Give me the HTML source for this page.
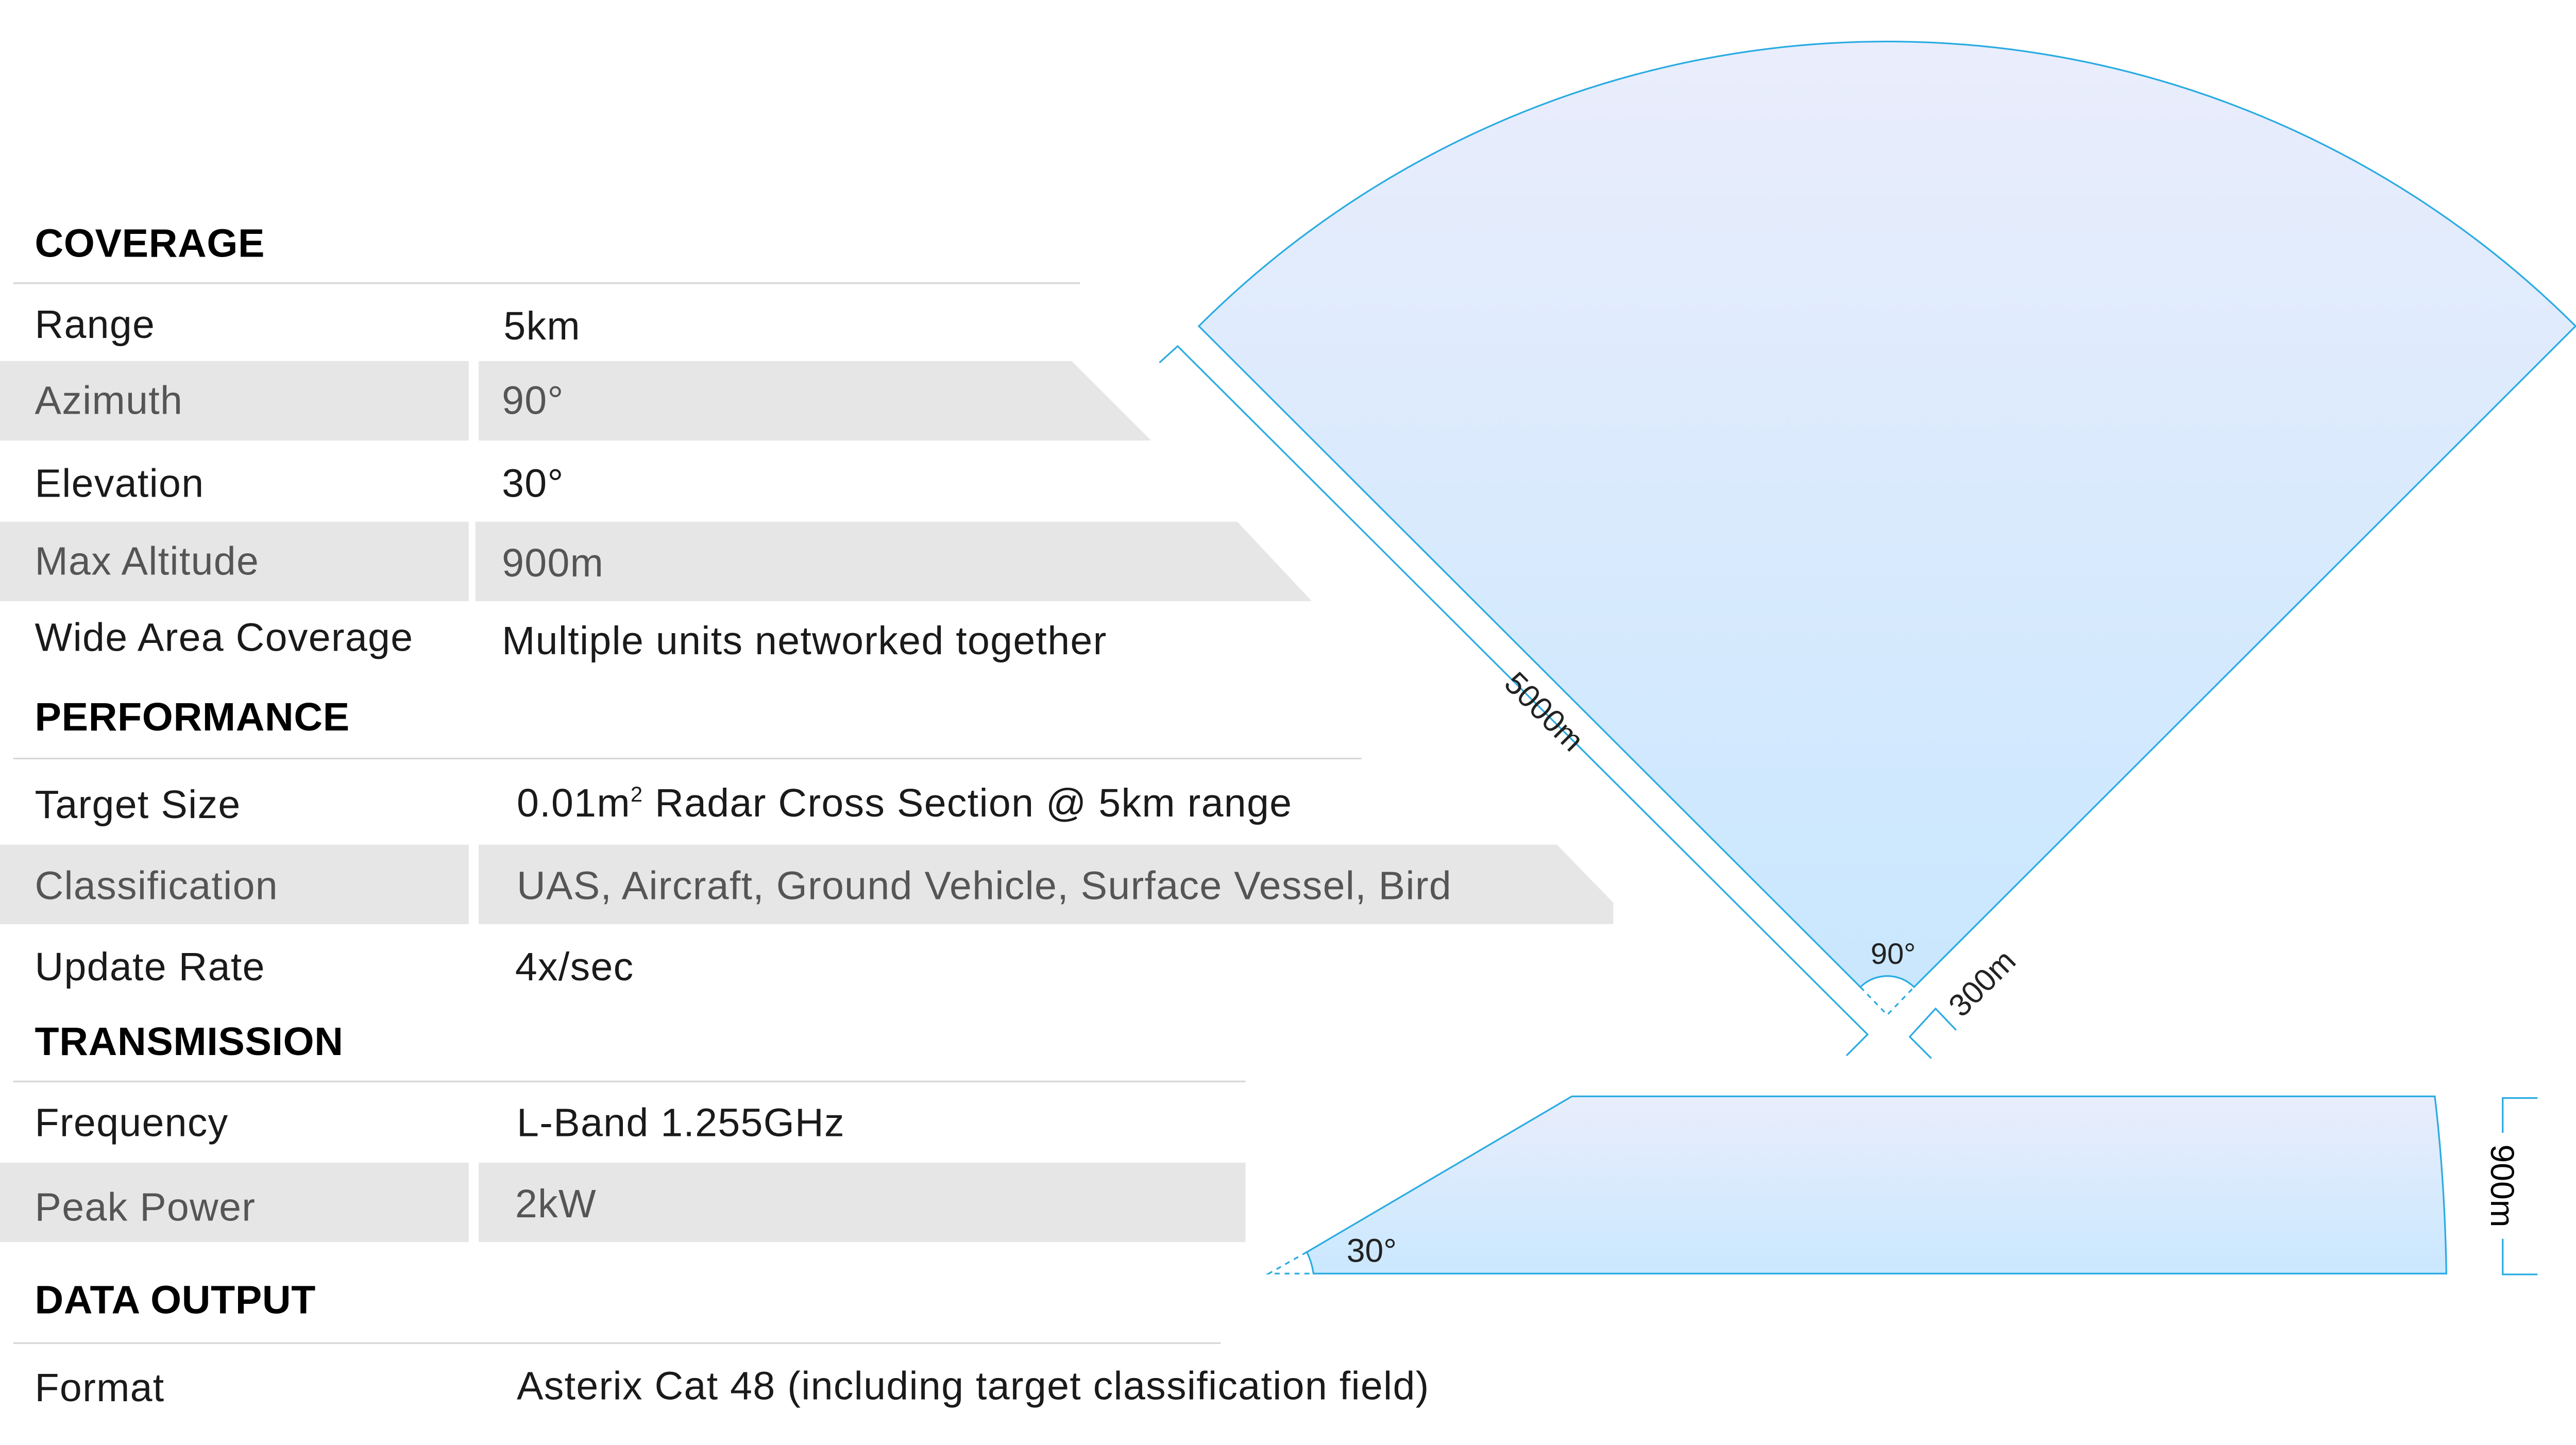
<!DOCTYPE html>
<html><head><meta charset="utf-8"><style>
html,body{margin:0;padding:0;background:#fff;}
svg{display:block;}
text{font-family:"Liberation Sans",sans-serif;}
</style></head><body>
<svg width="5041" height="2805" viewBox="0 0 1568 872.5" preserveAspectRatio="none" xmlns="http://www.w3.org/2000/svg">
<defs>
<linearGradient id="g1" x1="0" y1="0" x2="0" y2="1">
<stop offset="0" stop-color="#eaedfc"/><stop offset="1" stop-color="#c9e7fe"/></linearGradient>
<linearGradient id="g2" x1="0" y1="0" x2="0" y2="1">
<stop offset="0" stop-color="#e9edfc"/><stop offset="1" stop-color="#cae8fe"/></linearGradient>
</defs>
<rect width="1568" height="872.5" fill="#fff"/>

<g fill="#e6e6e6">
<rect x="0" y="218" width="283" height="48"/>
<polygon points="289,218 647,218 695,266 289,266"/>
<rect x="0" y="315" width="283" height="48"/>
<polygon points="287,315 747,315 792,363 287,363"/>
<rect x="0" y="510" width="283" height="48"/>
<polygon points="289,510 940,510 974,545 974,558 289,558"/>
<rect x="0" y="702" width="283" height="48"/>
<rect x="289" y="702" width="463" height="48"/>
</g>
<g stroke="#d6d6d6" stroke-width="1">
<line x1="8" y1="171" x2="652" y2="171"/>
<line x1="8" y1="458" x2="822" y2="458"/>
<line x1="8" y1="653" x2="752" y2="653"/>
<line x1="8" y1="811" x2="737" y2="811"/>
</g>

<g font-size="24" fill="#1a1a1a" letter-spacing="0.4">
<g font-weight="bold" fill="#000" letter-spacing="0.2">
<text x="21" y="155">COVERAGE</text>
<text x="21" y="441">PERFORMANCE</text>
<text x="21" y="637">TRANSMISSION</text>
<text x="21" y="793">DATA OUTPUT</text>
</g>
<text x="21" y="204">Range</text><text x="304" y="205">5km</text>
<text x="21" y="250" fill="#555">Azimuth</text><text x="303" y="250" fill="#555">90°</text>
<text x="21" y="300">Elevation</text><text x="303" y="300">30°</text>
<text x="21" y="347" fill="#555">Max Altitude</text><text x="303" y="348" fill="#555">900m</text>
<text x="21" y="393">Wide Area Coverage</text><text x="303" y="395">Multiple units networked together</text>
<text x="21" y="494">Target Size</text><text x="312" y="493">0.01m<tspan font-size="13" dy="-9">2</tspan><tspan dy="9"> Radar Cross Section @ 5km range</tspan></text>
<text x="21" y="543" fill="#555">Classification</text><text x="312" y="543" fill="#555">UAS, Aircraft, Ground Vehicle, Surface Vessel, Bird</text>
<text x="21" y="592">Update Rate</text><text x="311" y="592">4x/sec</text>
<text x="21" y="686">Frequency</text><text x="312" y="686">L-Band 1.255GHz</text>
<text x="21" y="737" fill="#555">Peak Power</text><text x="311" y="735" fill="#555">2kW</text>
<text x="21" y="846">Format</text><text x="312" y="845">Asterix Cat 48 (including target classification field)</text>
</g>

<path d="M1123.2,596 L723.8,196.9 A588.5,588.5 0 0 1 1555,196.9 L1155.6,596 A23,23 0 0 0 1123.2,596 Z" fill="url(#g1)" stroke="#29abe2" stroke-width="1"/>
<path d="M1123.2,596 L1139.4,612.8 L1155.6,596" fill="none" stroke="#29abe2" stroke-width="1" stroke-dasharray="3,3"/>
<polyline points="700,219 711,209 1127.5,624.6 1114.8,637.4" fill="none" stroke="#29abe2" stroke-width="1"/>
<polyline points="1166,639 1153,626 1168.6,609 1181,622" fill="none" stroke="#29abe2" stroke-width="1"/>
<text x="1143" y="582" font-size="18" fill="#222" text-anchor="middle">90°</text>
<text transform="translate(932,430) rotate(45)" font-size="19" fill="#222" text-anchor="middle" dy="6">5000m</text>
<text transform="translate(1197,594) rotate(-45)" font-size="19" fill="#222" text-anchor="middle" dy="6">300m</text>

<path d="M789,756 L949,662 L1470,662 Q1476,712 1477,769 L793,769 Q792,762 789,756 Z" fill="url(#g2)" stroke="#29abe2" stroke-width="1"/>
<path d="M789,756 L766,769 L793,769" fill="none" stroke="#29abe2" stroke-width="1" stroke-dasharray="3,3"/>
<text x="813" y="762" font-size="20" fill="#222">30°</text>
<polyline points="1532,663 1511,663 1511,684" fill="none" stroke="#29abe2" stroke-width="1"/>
<polyline points="1532,769.5 1511,769.5 1511,748" fill="none" stroke="#29abe2" stroke-width="1"/>
<text transform="translate(1511,716) rotate(90)" font-size="20" fill="#000" text-anchor="middle" dy="7">900m</text>
</svg>
</body></html>
